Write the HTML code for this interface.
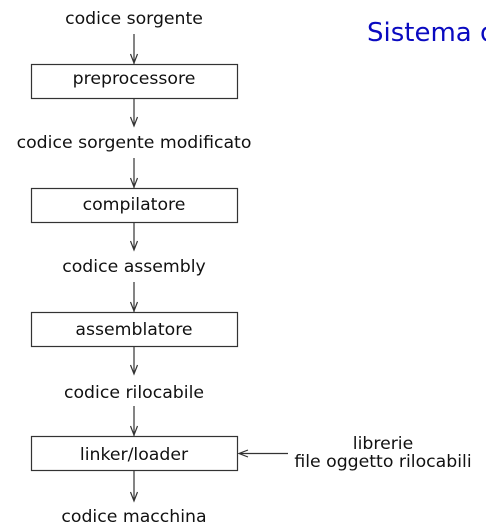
<!DOCTYPE html>
<html><head><style>
html,body{margin:0;padding:0;background:#fff;width:486px;height:528px;overflow:hidden}
svg{display:block}
text{font-family:"DejaVu Sans","Liberation Sans",sans-serif;font-size:17.3px;fill:#111}
</style></head><body>
<svg width="486" height="528" viewBox="0 0 486 528">
<g stroke="#333" stroke-width="1.2" fill="none">
<rect x="31.5" y="64.5" width="206" height="34"/>
<rect x="31.5" y="188.5" width="206" height="34"/>
<rect x="31.5" y="312.5" width="206" height="34"/>
<rect x="31.5" y="436.5" width="206" height="34"/>
<path d="M134,34 V64 M130.5,54 L134,63 L137.5,54"/>
<path d="M134,99 V126 M130.5,117 L134,126 L137.5,117"/>
<path d="M134,158 V188 M130.5,178 L134,187 L137.5,178"/>
<path d="M134,223 V250 M130.5,241 L134,250 L137.5,241"/>
<path d="M134,282 V312 M130.5,302 L134,311 L137.5,302"/>
<path d="M134,347 V374 M130.5,365 L134,374 L137.5,365"/>
<path d="M134,406 V436 M130.5,426 L134,435 L137.5,426"/>
<path d="M134,471 V501 M130.5,492 L134,501 L137.5,492"/>
<path d="M288,453.5 H239 M248,450 L239,453.5 L248,457"/>
</g>
<g text-anchor="middle">
<text x="134" y="24">codice sorgente</text>
<text x="134" y="84">preprocessore</text>
<text x="134" y="148">codice sorgente modificato</text>
<text x="134" y="210">compilatore</text>
<text x="134" y="272">codice assembly</text>
<text x="134" y="335">assemblatore</text>
<text x="134" y="398">codice rilocabile</text>
<text x="134" y="460">linker/loader</text>
<text x="134" y="522">codice macchina</text>
<text x="383" y="449">librerie</text>
<text x="383" y="467">file oggetto rilocabili</text>
</g>
<text x="367" y="41" style="font-size:26px;fill:#0a0ac0">Sistema di</text>
</svg>
</body></html>
